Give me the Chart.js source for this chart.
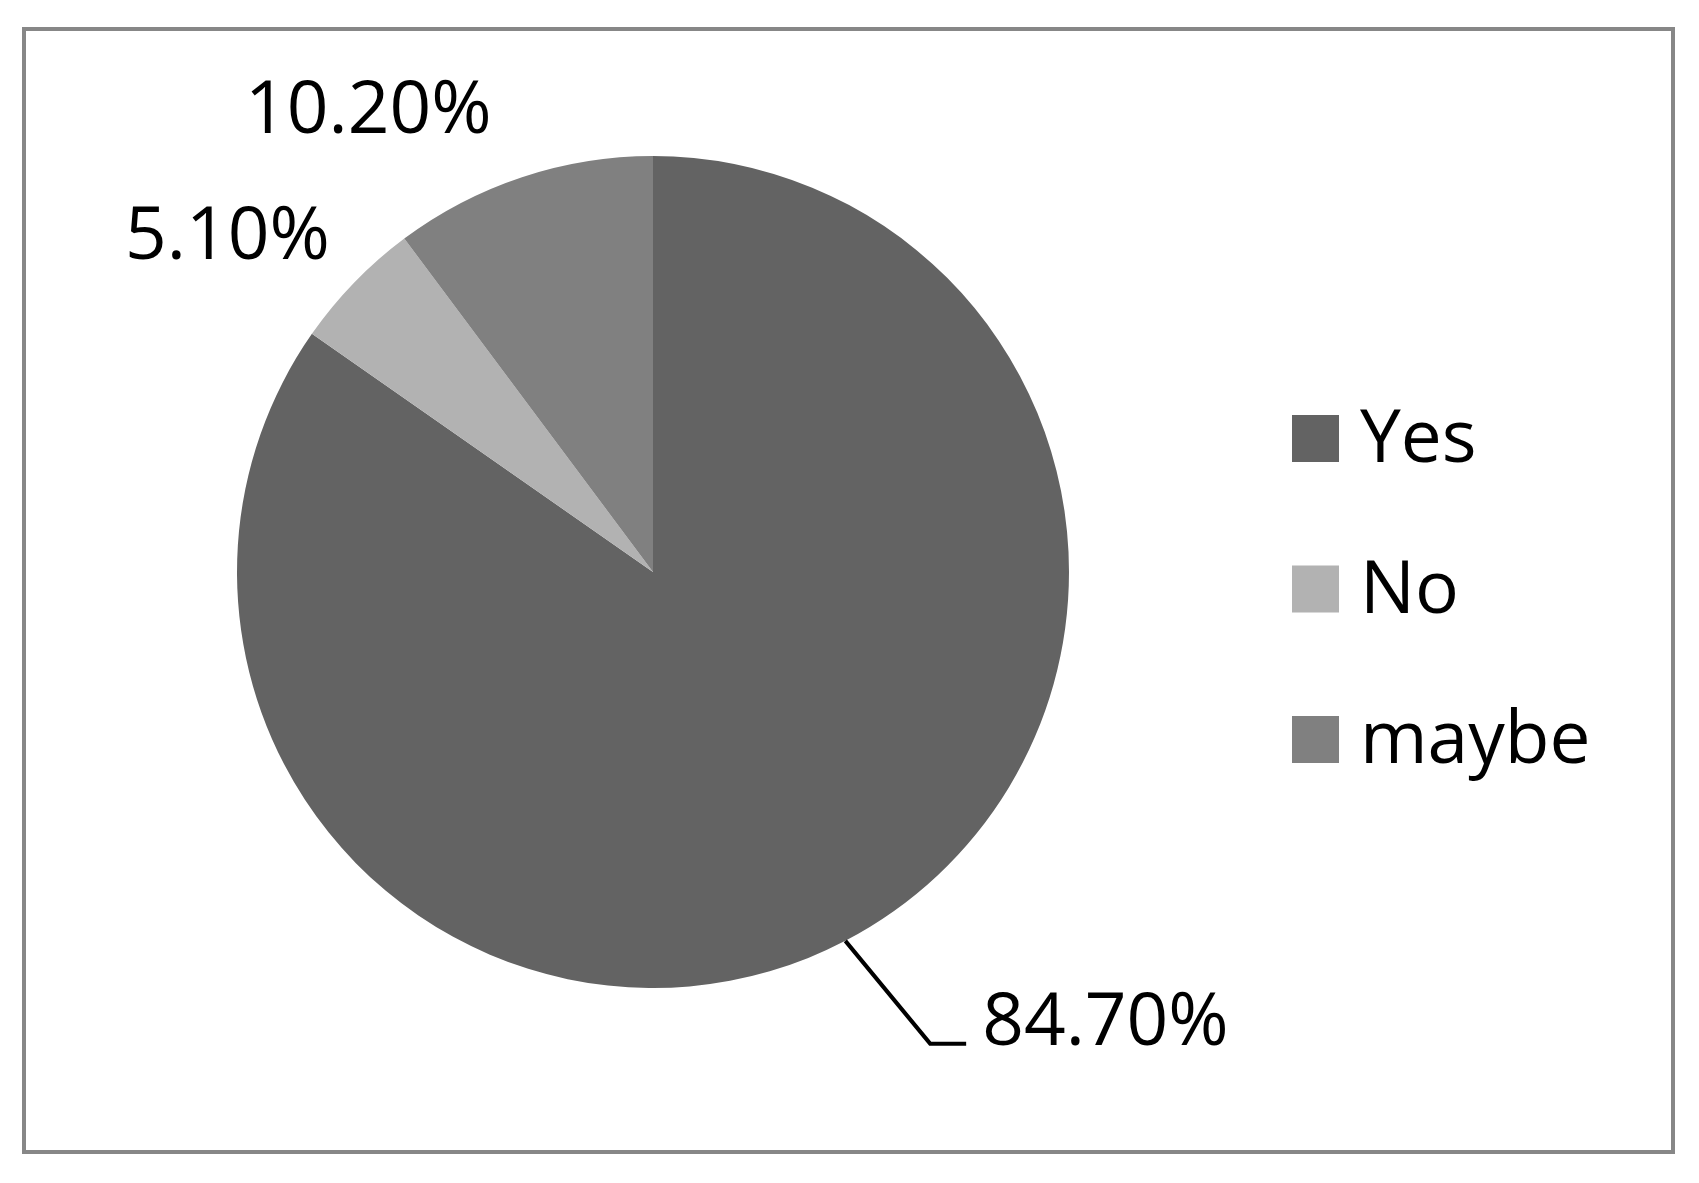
<!DOCTYPE html>
<html>
<head>
<meta charset="utf-8">
<script src="https://cdn.jsdelivr.net/npm/chart.js@4.4.1/dist/chart.umd.min.js"></script>
<style>
    html, body { margin: 0; padding: 0; background: #ffffff; }
    #wrap { position: relative; width: 1699px; height: 1183px; }
    #frame {
        position: absolute; left: 22px; top: 27px;
        width: 1645px; height: 1119px;
        border: 4px solid #878787;
    }
    #pieChart { position: absolute; left: 0; top: 0; }
</style>
</head>
<body>
<div id="wrap">
    <div id="frame"></div>
    <canvas id="pieChart" width="1699" height="1183"></canvas>
</div>
<script>
const categories = ['Yes', 'No', 'maybe'];
const shares = [84.7, 5.1, 10.2];
const sliceColors = ['#636363', '#b2b2b2', '#808080'];

const labelFont = '73px "Open Sans", "Liberation Sans", sans-serif';

// label placement relative to each slice: angle shift (deg) and distance (x radius)
const labelSpots = [
    { shift: -2.9, dist: 1.315, leader: true },
    { shift: -6.0, dist: 1.30, leader: false },
    { shift: -13.4, dist: 1.30, leader: false }
];

const pieLabels = {
    id: 'pieLabels',
    afterDraw(chart) {
        const ctx = chart.ctx;
        const meta = chart.getDatasetMeta(0);
        ctx.save();
        ctx.font = labelFont;
        ctx.fillStyle = '#000';
        meta.data.forEach((arc, i) => {
            const p = arc.getProps(['x', 'y', 'startAngle', 'endAngle', 'outerRadius'], true);
            const mid = (p.startAngle + p.endAngle) / 2;
            const spot = labelSpots[i];
            const a = mid + spot.shift * Math.PI / 180;
            const text = shares[i].toFixed(2) + '%';
            if (spot.leader) {
                const x0 = p.x + Math.cos(mid) * p.outerRadius;
                const y0 = p.y + Math.sin(mid) * p.outerRadius;
                const x1 = p.x + Math.cos(a) * p.outerRadius * spot.dist;
                const y1 = p.y + Math.sin(a) * p.outerRadius * spot.dist;
                ctx.strokeStyle = '#000';
                ctx.lineWidth = 4;
                ctx.beginPath();
                ctx.moveTo(x0, y0);
                ctx.lineTo(x1, y1);
                ctx.lineTo(x1 + 36, y1);
                ctx.stroke();
                ctx.textAlign = 'left';
                ctx.textBaseline = 'alphabetic';
                ctx.fillText(text, x1 + 52, y1 + 1);
            } else {
                const x = p.x + Math.cos(a) * p.outerRadius * spot.dist;
                const y = p.y + Math.sin(a) * p.outerRadius * spot.dist;
                ctx.textAlign = 'center';
                ctx.textBaseline = 'middle';
                ctx.fillText(text, x, y);
            }
        });
        ctx.restore();
    }
};

const sideLegend = {
    id: 'sideLegend',
    afterDraw(chart) {
        const ctx = chart.ctx;
        const left = 1292;
        const firstBase = 462;
        const step = 150.5;
        const box = 47;
        ctx.save();
        ctx.font = labelFont;
        ctx.textAlign = 'left';
        ctx.textBaseline = 'alphabetic';
        chart.data.labels.forEach((label, i) => {
            const base = firstBase + i * step;
            ctx.fillStyle = chart.data.datasets[0].backgroundColor[i];
            ctx.fillRect(left, base - box, box, box);
            ctx.fillStyle = '#000';
            ctx.fillText(label, left + 68, base);
        });
        ctx.restore();
    }
};

document.addEventListener('DOMContentLoaded', function() {
    const ctx = document.getElementById('pieChart').getContext('2d');
    new Chart(ctx, {
        type: 'pie',
        data: {
            labels: categories,
            datasets: [{
                data: shares,
                backgroundColor: sliceColors,
                borderWidth: 0
            }]
        },
        options: {
            responsive: false,
            animation: false,
            layout: {
                padding: { left: 237, right: 630, top: 156, bottom: 195 }
            },
            plugins: {
                legend: { display: false },
                tooltip: { enabled: false }
            }
        },
        plugins: [pieLabels, sideLegend]
    });
});
</script>
</body>
</html>
